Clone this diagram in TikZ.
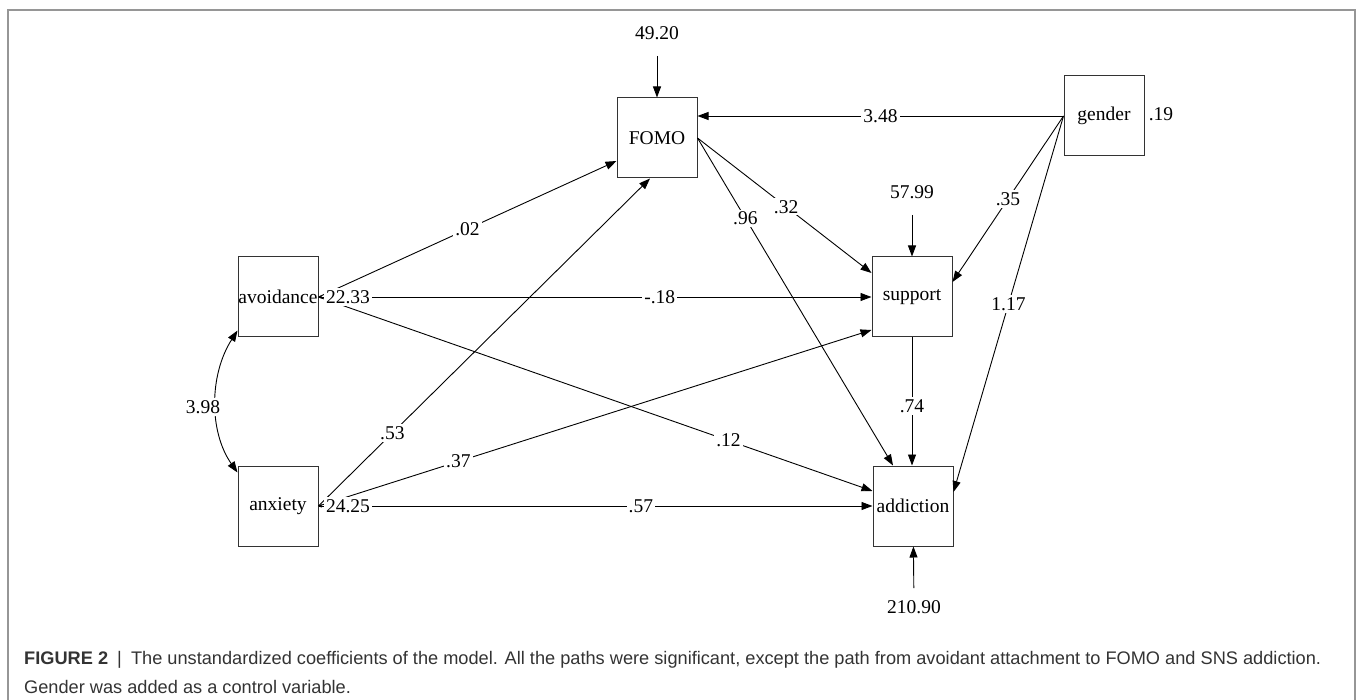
\documentclass[tikz,border=0pt]{standalone}
\usepackage{fontspec}
\setmainfont{Liberation Serif}
\newfontfamily\capfont{Liberation Sans}
\usetikzlibrary{arrows.meta,calc}
\definecolor{framegray}{RGB}{150,150,150}
\definecolor{capgray}{RGB}{51,51,51}
\tikzset{
  varbox/.style={draw=black!80,line width=1pt,minimum width=80pt,minimum height=80pt,inner sep=0pt,font=\fontsize{19.5}{22}\selectfont},
  coef/.style={fill=white,inner sep=2pt,font=\fontsize{19.5}{22}\selectfont},
  path/.style={line width=0.9pt,-{Triangle[length=11pt,width=8pt]}},
  tinyarr/.style={line width=0.6pt,-{Triangle[length=3pt,width=3pt]}},
  captext/.style={anchor=west,inner sep=0pt,text=capgray,font=\capfont\fontsize{18.2}{21}\selectfont},
}
\begin{document}
\begin{tikzpicture}[x=1pt,y=-1pt]
\useasboundingbox (0,0) rectangle (1357,700);
% frame
\draw[framegray,line width=1.3pt] (8,700) -- (8,10) -- (1355,10) -- (1355,700);

% variables
\node[varbox] (avoid) at (278,297) {avoidance};
\node[varbox] (anx) at (278,506) {anxiety};
\node[varbox] (fomo) at (657,138) {FOMO};
\node[varbox] (supp) at (912,297) {support};
\node[varbox] (addi) at (913,506) {addiction};
\node[varbox] (gend) at (1104,116) {gender};

% paths from avoidance
\draw[path] (avoid.east) -- node[coef,pos=0.5]{.02} ($(fomo.west)+(0,23)$);
\draw[path] (avoid.east) -- node[coef,pos=0.617]{-.18} (supp.west);
\draw[path] (avoid.east) -- node[coef,pos=0.74]{.12} ($(addi.west)+(0,-15)$);
% paths from anxiety
\draw[path] (anx.east) -- node[coef,pos=0.223]{.53} ($(fomo.south)+(-7,0)$);
\draw[path] (anx.east) -- node[coef,pos=0.253]{.37} ($(supp.west)+(0,33)$);
\draw[path] (anx.east) -- node[coef,pos=0.582]{.57} (addi.west);
% paths from FOMO
\draw[path] (fomo.east) -- node[coef,pos=0.509]{.32} ($(supp.west)+(0,-24)$);
\draw[path] (fomo.east) -- node[coef,pos=0.245]{.96} ($(addi.north)+(-20,0)$);
% paths from gender
\draw[path] (gend.west) -- node[coef,pos=0.5]{3.48} ($(fomo.east)+(0,-22)$);
\draw[path] (gend.west) -- node[coef,pos=0.5]{.35} ($(supp.east)+(0,-15)$);
\draw[path] (gend.west) -- node[coef,pos=0.5]{1.17} ($(addi.east)+(0,-14)$);
% support -> addiction
\draw[path] (supp.south) -- node[coef,pos=0.535]{.74} (supp.south |- addi.north);

% residual variances
\node[coef] (e1) at (657,33) {49.20};
\draw[path,shorten <=14pt] (e1) -- (fomo);
\node[coef] (e2) at (912,192) {57.99};
\draw[path,shorten <=14pt] (e2) -- (supp);
\node[coef] (e3) at (914,607) {210.90};
\draw[path,shorten <=10pt] (e3) -- (addi);
\node[coef] (v4) at (1161,114) {.19};

% exogenous variances
\node[coef] (v1) at (348,297) {22.33};
\draw[tinyarr] (v1.west) -- (avoid.east);
\node[coef] (v2) at (348,506) {24.25};
\draw[tinyarr] (v2.west) -- (anx.east);

% covariance
\draw[line width=0.9pt,{Triangle[length=11pt,width=8pt]}-{Triangle[length=11pt,width=8pt]}]
  ($(avoid.south west)+(0,-7)$) .. controls (209,375) and (209,432) .. ($(anx.north west)+(0,7)$);
\node[coef] (c1) at (203,407) {3.98};

% caption
\node[captext] (cap1) at (24,660)
  {{\bfseries FIGURE 2}\enspace|\enspace The unstandardized coefficients of the model. All the paths were significant, except the path from avoidant attachment to FOMO and SNS addiction.};
\node[captext] (cap2) at (24,687)
  {Gender was added as a control variable.};
\end{tikzpicture}
\end{document}
